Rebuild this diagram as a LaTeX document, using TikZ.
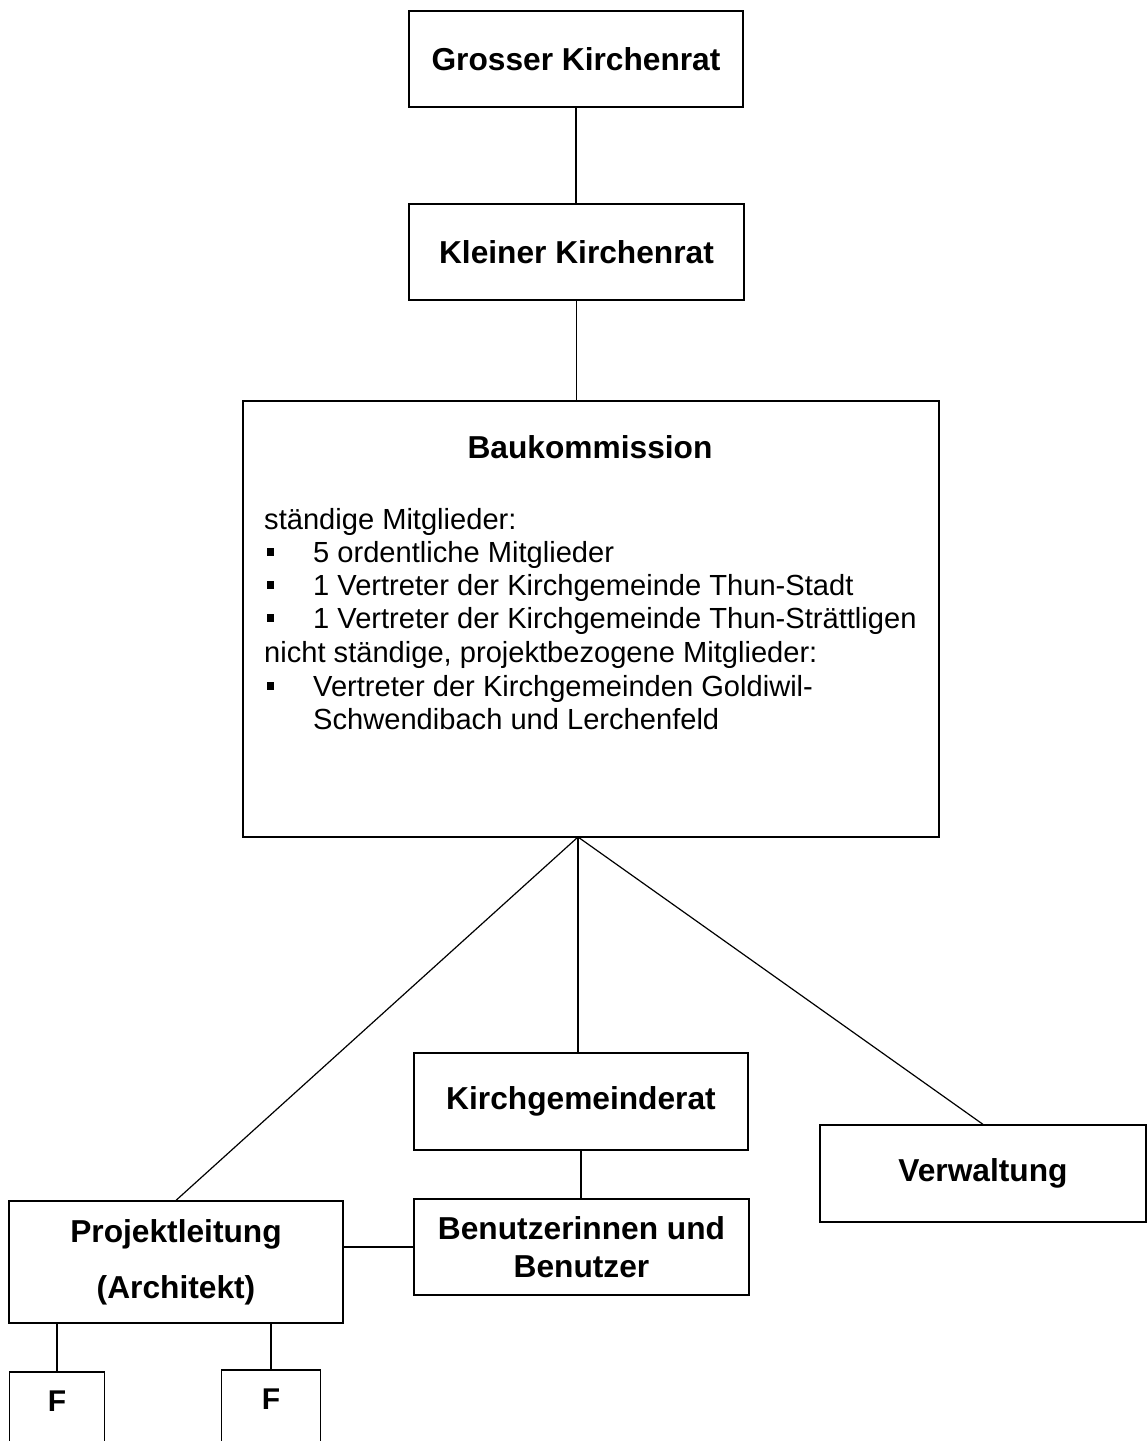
\documentclass[tikz,border=0pt]{standalone}
\usepackage{fontspec}
\setmainfont{Liberation Sans}
\begin{document}
\begin{tikzpicture}[x=1pt,y=-1pt,
  box/.style={draw,line width=1.3pt,inner sep=0pt,align=center,font=\fontsize{31.7}{36}\selectfont\bfseries},
  conn/.style={line width=1.2pt},
  body/.style={anchor=base west,inner sep=0pt,font=\fontsize{29.1}{33}\selectfont},
  lab/.style={inner sep=0pt,font=\fontsize{30}{34}\selectfont\bfseries}]
\useasboundingbox (0,0) rectangle (1147,1441);
\fill[white] (0,0) rectangle (1147,1441);
\newcommand{\bul}{\makebox[49pt][l]{\hspace{3pt}\raisebox{6pt}{\rule{6.5pt}{8pt}}}}
% boxes
\node[box,minimum width=334pt,minimum height=96pt] (gk) at (576,59) {Grosser Kirchenrat};
\node[box,minimum width=335pt,minimum height=96pt] (kk) at (576.5,252) {Kleiner Kirchenrat};
\node[box,minimum width=696pt,minimum height=436pt] (bk) at (591,619) {};
\node[inner sep=0pt,font=\fontsize{31.7}{36}\selectfont\bfseries] (bkt) at (590,447) {Baukommission};
\node[body] (t1) at (264,529) {ständige Mitglieder:};
\node[body] (t2) at (264,562) {\bul 5 ordentliche Mitglieder};
\node[body] (t3) at (264,595) {\bul 1 Vertreter der Kirchgemeinde Thun-Stadt};
\node[body] (t4) at (264,628) {\bul 1 Vertreter der Kirchgemeinde Thun-Strättligen};
\node[body] (t5) at (264,662) {nicht ständige, projektbezogene Mitglieder:};
\node[body] (t6) at (264,696) {\bul Vertreter der Kirchgemeinden Goldiwil-};
\node[body] (t7) at (313,729) {Schwendibach und Lerchenfeld};
\node[box,minimum width=334pt,minimum height=97pt] (kg) at (581,1101.5) {Kirchgemeinderat};
\node[box,minimum width=335pt,minimum height=96pt,font=\fontsize{31.7}{38}\selectfont\bfseries] (bu) at (581.5,1247) {Benutzerinnen und\\Benutzer};
\node[box,minimum width=326pt,minimum height=97pt] (vw) at (983,1173.5) {Verwaltung};
\node[box,minimum width=334pt,minimum height=122pt,font=\fontsize{31.7}{56}\selectfont\bfseries] (pl) at (176,1262) {Projektleitung\\(Architekt)};
% F boxes (open at bottom)
\node[minimum width=94pt,minimum height=69pt,inner sep=0pt,anchor=north] (fa) at (57,1372) {};
\node[minimum width=98pt,minimum height=71pt,inner sep=0pt,anchor=north] (fb) at (271,1370) {};
\node[lab] (fat) at (57,1401) {F};
\node[lab] (fbt) at (271,1399) {F};
\draw[conn] (fa.south west) |- (fa.north east) -- (fa.south east);
\draw[conn] (fb.south west) |- (fb.north east) -- (fb.south east);
% connectors
\coordinate (hub) at (578,837);
\draw[conn] (gk.south) -- (gk.south |- kk.north);
\draw[conn] (kk.south) -- (kk.south |- bk.north);
\draw[conn] (hub) -- (pl.north);
\draw[conn] (hub) -- (hub |- kg.north);
\draw[conn] (hub) -- (vw.north);
\draw[conn] (kg.south) -- (kg.south |- bu.north);
\draw[conn] (bu.west -| pl.east) -- (bu.west);
\draw[conn] (fa.north |- pl.south) -- (fa.north);
\draw[conn] (fb.north |- pl.south) -- (fb.north);
\end{tikzpicture}
\end{document}
